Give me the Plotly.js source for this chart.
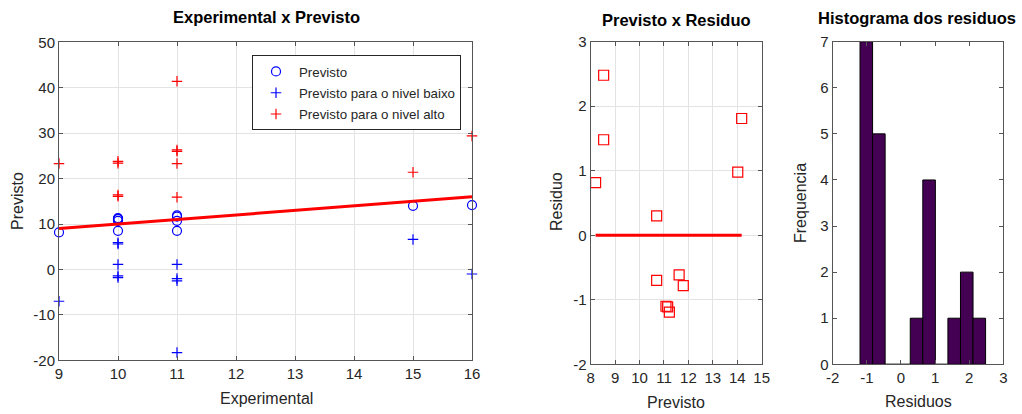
<!DOCTYPE html>
<html>
<head>
<meta charset="utf-8">
<script src="https://cdn.plot.ly/plotly-3.0.1.min.js"></script>
<style>html,body{margin:0;padding:0;background:#fff;}#chart{width:1022px;height:414px;}</style>
</head>
<body>
<div id="chart"></div>
<script>
// ---- Data: Experimental x Previsto ----
const prevExpX   = [9, 10, 10, 10, 10, 10, 11, 11, 11, 11, 15, 16];
const prevY      = [8.18, 8.5, 10.7, 11.1, 11.12, 11.3, 8.5, 10.7, 11.62, 11.9, 14.0, 14.18];
const baixoX     = [9, 10, 10, 10, 10, 10, 11, 11, 11, 11, 15, 16];
const baixoY     = [-7.0, 5.9, 5.6, 1.1, -1.4, -1.8, 1.1, -2.0, -2.5, -18.3, 6.6, -1.0];
const altoX      = [9, 10, 10, 10, 10, 11, 11, 11, 11, 11, 15, 16];
const altoY      = [23.3, 23.8, 23.4, 16.4, 16.1, 41.4, 26.3, 26.0, 23.3, 15.9, 21.4, 29.4];
const idealX     = [9, 16];
const idealY     = [9, 16];

// ---- Data: Previsto x Residuo ----
const resPrev    = [8.2, 8.53, 8.53, 10.7, 10.7, 11.08, 11.15, 11.22, 11.62, 11.79, 14.02, 14.18];
const residuo    = [0.815, 2.48, 1.48, 0.30, -0.70, -1.10, -1.11, -1.19, -0.615, -0.78, 0.98, 1.81];
const zeroLineX  = [8.2, 14.18];
const zeroLineY  = [0, 0];

// ---- Data: Histograma dos residuos ----
const binCenters = [-1.015, -0.647, -0.279, 0.089, 0.457, 0.825, 1.193, 1.561, 1.929, 2.297];
const binCounts  = [7, 5, 0, 0, 1, 4, 0, 1, 2, 1];
const binWidth   = 0.368;

// ---- Tick values ----
const x1Ticks = [9, 10, 11, 12, 13, 14, 15, 16];
const y1Ticks = [-20, -10, 0, 10, 20, 30, 40, 50];
const x2Ticks = [8, 9, 10, 11, 12, 13, 14, 15];
const y2Ticks = [-2, -1, 0, 1, 2, 3];
const x3Ticks = [-2, -1, 0, 1, 2, 3];
const y3Ticks = [0, 1, 2, 3, 4, 5, 6, 7];

const FONT = 'Liberation Sans, Arial, sans-serif';
const W = 1022, H = 414;
const TXT = '#262626';

function ax(domain, range, ticks, anchor, grid) {
  return {
    domain: domain, range: range, anchor: anchor,
    tickmode: 'array', tickvals: ticks, ticktext: ticks.map(String),
    showline: true, linecolor: '#555', linewidth: 1, mirror: 'ticks',
    ticks: 'inside', ticklen: 4, tickcolor: '#555', tickwidth: 1,
    showgrid: grid, gridcolor: '#e3e3e3', gridwidth: 1,
    zeroline: false, fixedrange: true,
    tickfont: {family: FONT, size: 15, color: TXT}
  };
}

const traces = [
  {x: prevExpX, y: prevY, type: 'scatter', mode: 'markers', name: 'Previsto',
   legendgroup: 'a', xaxis: 'x', yaxis: 'y', cliponaxis: false,
   marker: {symbol: 'circle-open', size: 9, color: '#0000ff', line: {width: 1.2, color: '#0000ff'}}},
  {x: baixoX, y: baixoY, type: 'scatter', mode: 'markers', name: 'Previsto para o nivel baixo',
   legendgroup: 'b', xaxis: 'x', yaxis: 'y', cliponaxis: false,
   marker: {symbol: 'cross-thin-open', size: 7.5, color: '#0000ff', line: {width: 1.2, color: '#0000ff'}}},
  {x: altoX, y: altoY, type: 'scatter', mode: 'markers', name: 'Previsto para o nivel alto',
   legendgroup: 'c', xaxis: 'x', yaxis: 'y', cliponaxis: false,
   marker: {symbol: 'cross-thin-open', size: 7.5, color: '#ff0000', line: {width: 1.2, color: '#ff0000'}}},
  {x: idealX, y: idealY, type: 'scatter', mode: 'lines', showlegend: false,
   xaxis: 'x', yaxis: 'y', line: {color: '#ff0000', width: 3}},
  {x: zeroLineX, y: zeroLineY, type: 'scatter', mode: 'lines', showlegend: false,
   xaxis: 'x2', yaxis: 'y2', line: {color: '#ff0000', width: 3}},
  {x: resPrev, y: residuo, type: 'scatter', mode: 'markers', showlegend: false,
   xaxis: 'x2', yaxis: 'y2', cliponaxis: false,
   marker: {symbol: 'square-open', size: 10, color: '#ff0000', line: {width: 1.2, color: '#ff0000'}}},
  {x: binCenters, y: binCounts, type: 'bar', width: binWidth, showlegend: false,
   xaxis: 'x3', yaxis: 'y3',
   marker: {color: '#440154', line: {color: '#000000', width: 1}}}
];

const d1x = [59 / W, 472 / W], d1y = [(H - 360.3) / H, (H - 42.3) / H];
const d2x = [590.7 / W, 761.7 / W], d2y = [(H - 364.3) / H, (H - 41.7) / H];
const d3x = [832.7 / W, 1003.3 / W], d3y = [(H - 364.3) / H, (H - 41.7) / H];

function ann(text, xpx, ypx, size, bold, rot) {
  return {text: bold ? '<b>' + text + '</b>' : text, xref: 'paper', yref: 'paper',
    x: xpx / W, y: (H - ypx) / H, xanchor: 'center', yanchor: 'middle', showarrow: false,
    textangle: rot || 0, font: {family: FONT, size: size, color: bold ? '#000' : TXT}};
}

const layout = {
  width: W, height: H, margin: {l: 0, r: 0, t: 0, b: 0},
  paper_bgcolor: '#fff', plot_bgcolor: '#fff',
  font: {family: FONT, color: TXT},
  bargap: 0,
  xaxis: ax(d1x, [9, 16], x1Ticks, 'y', true),
  yaxis: ax(d1y, [-20, 50], y1Ticks, 'x', true),
  xaxis2: ax(d2x, [8, 15], x2Ticks, 'y2', true),
  yaxis2: ax(d2y, [-2, 3], y2Ticks, 'x2', true),
  xaxis3: ax(d3x, [-2, 3], x3Ticks, 'y3', false),
  yaxis3: ax(d3y, [0, 7], y3Ticks, 'x3', false),
  showlegend: true,
  legend: {x: 252 / W, y: (H - 55.3) / H, xanchor: 'left', yanchor: 'top',
    bgcolor: '#fff', bordercolor: '#262626', borderwidth: 1,
    traceorder: 'grouped', tracegroupgap: 1, itemwidth: 36,
    font: {family: FONT, size: 13.3, color: TXT}},
  annotations: [
    ann('Experimental x Previsto', 266, 17, 16.5, true),
    ann('Previsto x Residuo', 676, 20, 16.5, true),
    ann('Histograma dos residuos', 917, 18, 16.5, true),
    ann('Experimental', 266, 398, 16, false),
    ann('Previsto', 676, 402, 16, false),
    ann('Residuos', 918, 401, 16, false),
    ann('Previsto', 17, 201, 16, false, -90),
    ann('Residuo', 557, 202, 16, false, -90),
    ann('Frequencia', 801, 203, 16, false, -90)
  ]
};

Plotly.newPlot('chart', traces, layout, {displayModeBar: false, staticPlot: true});
</script>
</body>
</html>
